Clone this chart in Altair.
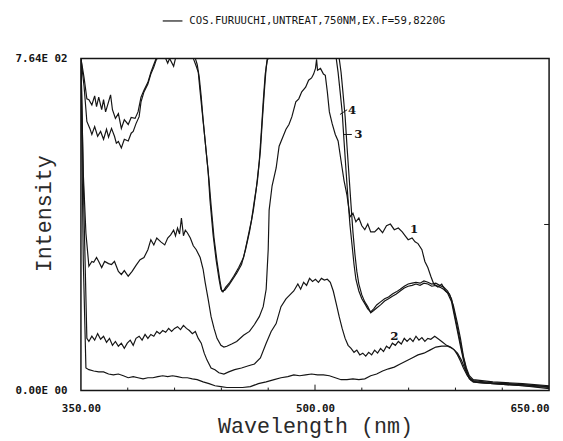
import altair as alt
import pandas as pd

# ---- data (wavelength nm, intensity) ----
curve1 = [(350,764),(351.5,500),(353.2,362),(355.1,286),(357,297),(358.2,295),(360,306),(361.4,297),(363.3,283),(365.2,297),(367.7,292),(369.6,290),(371.5,297),(374,274),(375.9,267),(377.8,276),(380.3,263),(382.8,274),(385.3,288),(387.9,301),(390.4,306),(392.9,324),(394.8,347),(396.7,335),(398.6,351),(401.2,342),(403.7,335),(405.6,351),(407.5,358),(409.4,369),(410.6,356),(411.9,374),(413.2,360),(414.4,397),(415.7,356),(416.9,369),(418.2,363),(420.1,351),(422,333),(423.9,324),(426.4,306),(428.3,279),(429.6,249),(431.5,211),(433.4,170),(435.3,143),(437.2,120),(439.7,104),(441.6,100),(443.5,102),(446.6,107),(449.8,113),(454.2,127),(458,136),(461.2,152),(464.3,170),(466.8,193),(468.7,233),(470,324),(470.6,415),(472.5,471),(475.1,512),(477,562),(478.8,578),(481.4,601),(483.3,612),(485.2,630),(487.7,664),(489.6,671),(491.5,687),(494,698),(495.9,714),(497.8,719),(499.1,728),(500.3,741),(501,762),(501.6,737),(503.5,741),(505.4,728),(506.6,725),(507.9,687),(509.2,641),(511,614),(513,589),(514.8,574),(516.7,528),(518.6,483),(520.5,449),(522.4,399),(524.3,408),(526.2,388),(528.1,397),(530,379),(531.9,370),(533.8,383),(535.7,365),(538.2,365),(540.7,374),(543.3,363),(545.8,379),(548.3,383),(550.8,370),(553.4,374),(555.9,365),(557.8,356),(559.7,347),(562.2,351),(564.1,342),(566,338),(568.5,324),(570.4,297),(572.3,283),(574.2,263),(576.1,245),(578.7,238),(581.2,245),(583.7,229),(586.2,222),(588.7,195),(591.3,154),(593.2,120),(595.1,79),(597,52),(598.9,34),(601.4,25),(614,20),(633,16),(650,11)]

curve2 = [(350,764),(352,400),(353.8,120),(355.1,113),(357,125),(358.8,116),(360.7,131),(362.6,118),(364.5,125),(366.4,111),(368.3,120),(370.2,104),(372.1,113),(374,102),(375.9,109),(377.8,97),(379.7,109),(381.6,116),(383.5,104),(385.3,120),(387.3,125),(389.2,116),(391.1,129),(392.9,120),(394.8,129),(396.7,125),(398.6,136),(400.5,131),(402.4,138),(404.3,134),(406.2,143),(408.1,136),(410,143),(411.9,147),(413.8,140),(415.7,150),(417.6,143),(419.5,138),(421.4,131),(423.3,136),(425.2,120),(427.1,109),(429,86),(430.8,70),(433.4,52),(435.9,48),(438.4,41),(441.6,38),(444.7,43),(448.5,48),(452.9,52),(457.4,57),(461.2,61),(465,75),(468.7,109),(471.9,136),(475.1,154),(478.2,193),(481.4,211),(483.9,220),(486.4,229),(489,245),(490.8,233),(492.7,249),(494.6,242),(496.5,258),(498.4,251),(500.3,256),(502.2,249),(504.1,258),(506,254),(507.9,256),(509.8,249),(511.7,229),(513.6,200),(515.5,170),(517.4,143),(519.3,120),(521.2,104),(523.1,97),(525,88),(526.8,93),(528.7,82),(530.6,86),(532.5,79),(534.4,88),(536.3,82),(538.2,93),(540.1,86),(542,97),(543.9,90),(545.8,102),(547.7,97),(549.6,109),(551.5,104),(553.4,113),(555.3,107),(557.2,120),(559,113),(560.9,120),(562.8,113),(564.7,125),(566.6,116),(568.5,122),(570.4,113),(572.3,120),(574.2,118),(576.7,125),(579.3,118),(581.8,111),(584.3,104),(586.8,100),(589.4,93),(591.3,82),(593.2,68),(595.1,52),(597.6,34),(600.1,23),(604.5,18),(620.3,16),(650,9)]

curve3 = [(350,764),(352,700),(353.8,619),(355.7,603),(357,589),(358.8,607),(360.7,585),(362.6,596),(364.5,578),(366.4,601),(367.7,583),(369.6,603),(371.5,585),(372.7,569),(374,573),(375.9,558),(377.8,578),(380.3,574),(382.2,592),(383.5,596),(385.3,614),(387.3,630),(388.5,664),(390.4,687),(392.9,705),(394.8,728),(396.7,744),(398.6,764),(423.3,764),(424.5,750),(425.8,721),(427.1,675),(428.3,623),(430.2,551),(432.1,483),(433.4,426),(435.3,351),(437.2,297),(439.1,252),(440.3,229),(442.2,231),(444.7,242),(447.3,256),(449.8,270),(452.9,290),(455.5,324),(458,365),(460.5,415),(462.4,465),(464.3,528),(465.6,596),(466.8,664),(468.1,728),(469.4,759),(470,764),(515.5,764),(516.7,732),(518,682),(519.3,630),(520.5,562),(521.8,494),(523.1,426),(524.3,365),(525.6,313),(526.8,274),(528.1,245),(530,220),(531.9,204),(533.8,193),(535.7,179),(537.6,184),(539.5,190),(542,197),(544.6,206),(547.1,211),(549.6,217),(552.1,222),(554.6,229),(557.2,236),(559.7,240),(562.2,242),(564.7,245),(567.3,242),(569.8,247),(572.3,245),(574.8,240),(577.4,242),(579.9,238),(582.4,233),(585,224),(587.5,204),(589.4,170),(591.3,136),(593.2,102),(595.1,70),(597,43),(598.9,27),(601.4,20),(614,16),(633,11),(650,7)]

curve4 = [(350,764),(352,720),(353.8,671),(355.1,669),(357,657),(358.8,678),(360,653),(361.4,675),(363.3,646),(364.5,669),(365.8,641),(367.7,664),(369,680),(370.2,646),(372.1,626),(374,637),(375.9,603),(377.8,623),(380.3,612),(382.2,628),(384.7,626),(386.6,641),(388.5,675),(390.4,691),(392.9,709),(394.8,732),(396.7,750),(398,762),(399.3,764),(404.3,764),(405.6,753),(406.8,764),(409.4,746),(410.6,764),(422,764),(423.9,746),(425.2,732),(426.4,687),(427.7,641),(429.6,574),(431.5,505),(432.7,438),(434.7,358),(436.6,301),(438.5,256),(439.7,233),(441,227),(442.8,238),(445.4,249),(447.9,263),(451.1,283),(454.2,306),(456.7,347),(459.3,392),(461.2,438),(463.1,483),(465,551),(466.2,619),(467.5,687),(468.7,744),(469.4,764),(513.6,764),(514.8,732),(516.1,687),(517.4,641),(518.6,574),(519.9,505),(521.2,438),(522.4,381),(523.7,336),(525,290),(526.2,256),(528.1,229),(530,211),(531.9,200),(533.8,188),(535.7,181),(537.6,188),(539.5,197),(542,204),(544.6,211),(547.1,215),(549.6,222),(552.1,227),(554.6,233),(557.2,240),(559.7,245),(562.2,247),(564.7,249),(567.3,247),(569.8,252),(572.3,249),(574.8,245),(577.4,247),(579.9,242),(582.4,238),(585,229),(587.5,211),(589.4,177),(591.3,143),(593.2,109),(595.1,75),(597,48),(598.9,29.5),(601.4,23),(614,18),(633,14),(650,9)]

curve5 = [(350,764),(351.5,300),(353.2,52),(355.1,48),(358.2,45),(361.4,43),(364.5,43),(367.7,38),(370.8,36),(374,38),(377.2,34),(380.3,29.5),(383.5,32),(386.6,29.5),(389.8,27),(392.9,29.5),(396.1,29.5),(399.3,32),(402.4,34),(405.6,32),(408.7,34),(411.9,32),(415.1,29.5),(418.2,29.5),(421.4,27),(424.5,25),(428.3,20),(432.1,16),(435.9,11),(439.7,9),(443.5,7),(448.5,7),(453.6,7),(458.6,9),(463.7,16),(468.7,20),(473.8,25),(478.2,29.5),(482.6,32),(486.4,36),(490.2,34),(494,36),(497.8,38),(501.6,36),(505.4,36),(509.2,34),(513,29.5),(516.7,25),(520.5,25),(524.3,27),(528.1,25),(531.9,27),(535.7,34),(539.5,38),(543.3,45),(547.1,50),(550.8,54),(554.6,61),(558.4,68),(562.2,75),(566,82),(569.8,86),(573.6,93),(577.4,100),(581.2,102),(585,102),(588.1,97),(591.3,86),(593.8,70),(596.3,48),(598.9,29.5),(601.4,20),(614,16),(633,11),(650,4.5)]

curve_names = ["1", "2", "3", "4", "5"]
label_text = ["1", "2", "3", "4"]
label_wl = [563.5, 550.8, 527.8, 523.8]
label_int = [372, 125, 589, 646]
leader_wl = [518.2, 516.0]
leader_wl2 = [523.6, 520.6]
leader_int = [589, 635]
leader_int2 = [589, 646]
minor_ticks = [380, 410, 440, 470, 530, 560, 590, 620]
major_ticks = [500]
x_labels = [350, 500, 650]
y_labels = [0, 764]
legend_text = "COS.FURUUCHI,UNTREAT,750NM,EX.F=59,8220G"

rows = []
for name, pts in zip(curve_names, [curve1, curve2, curve3, curve4, curve5]):
    for i, (w, v) in enumerate(pts):
        rows.append({"curve": name, "wl": w, "inten": v, "order": i})
df = pd.DataFrame(rows)

INK = "#151515"
xscale = alt.Scale(domain=[350, 650], nice=False, zero=False)
yscale = alt.Scale(domain=[0, 764], nice=False, zero=True)

xaxis = alt.Axis(
    values=x_labels, format=".2f", ticks=False, domain=False, grid=False,
    labelFont="DejaVu Sans Mono", labelFontWeight="bold", labelFontSize=11,
    labelColor=INK, labelPadding=12,
    labelAlign={"condition": {"test": "datum.value == 650", "value": "right"}, "value": "center"},
    title="Wavelength (nm)", titleFont="Liberation Mono", titleFontSize=22,
    titleFontWeight="normal", titleColor="#2a2a2a", titleY=43, titleBaseline="alphabetic",
)
yaxis = alt.Axis(
    values=y_labels, ticks=False, domain=False, grid=False,
    labelExpr="datum.value == 0 ? '0.00E 00' : '7.64E 02'",
    labelFont="DejaVu Sans Mono", labelFontWeight="bold", labelFontSize=11,
    labelColor=INK, labelPadding=14, labelBaseline="middle",
    title="Intensity", titleFont="Liberation Mono", titleFontSize=22,
    titleFontWeight="normal", titleColor="#2a2a2a", titleX=-38, titleY=157,
    titleAlign="center", titleBaseline="middle",
)

lines = alt.Chart(df).mark_line(color=INK, strokeWidth=1.2, clip=True).encode(
    x=alt.X("wl:Q", scale=xscale, axis=xaxis),
    y=alt.Y("inten:Q", scale=yscale, axis=yaxis),
    detail="curve:N",
    order="order:Q",
)

lab_df = pd.DataFrame({"wl": label_wl, "inten": label_int, "t": label_text})
labels = alt.Chart(lab_df).mark_text(
    font="DejaVu Serif", fontWeight="bold", fontSize=12, color=INK, baseline="middle"
).encode(x=alt.X("wl:Q", scale=xscale), y=alt.Y("inten:Q", scale=yscale), text="t:N")

lead_df = pd.DataFrame({"wl": leader_wl, "wl2": leader_wl2, "inten": leader_int, "inten2": leader_int2})
leaders = alt.Chart(lead_df).mark_rule(color=INK, strokeWidth=1).encode(
    x=alt.X("wl:Q", scale=xscale), x2="wl2:Q",
    y=alt.Y("inten:Q", scale=yscale), y2="inten2:Q",
)

minor_df = pd.DataFrame({"wl": minor_ticks})
minor = alt.Chart(minor_df).mark_rule(color=INK, strokeWidth=1).encode(
    x=alt.X("wl:Q", scale=xscale), y=alt.value(337), y2=alt.value(334)
)
major_df = pd.DataFrame({"wl": major_ticks})
major = alt.Chart(major_df).mark_rule(color=INK, strokeWidth=1).encode(
    x=alt.X("wl:Q", scale=xscale), y=alt.value(337), y2=alt.value(331)
)
right_tick = alt.Chart(pd.DataFrame({"v": [382]})).mark_rule(color=INK, strokeWidth=1).encode(
    x=alt.value(470), x2=alt.value(475), y=alt.Y("v:Q", scale=yscale)
)

leg_line = alt.Chart(pd.DataFrame({"k": [0]})).mark_rule(color=INK, strokeWidth=1.2).encode(
    x=alt.value(83), x2=alt.value(103), y=alt.value(-38)
)
leg_text = alt.Chart(pd.DataFrame({"t": [legend_text]})).mark_text(
    font="DejaVu Sans Mono", fontSize=10.8, color=INK, align="left", baseline="middle"
).encode(x=alt.value(110), y=alt.value(-38), text="t:N")

chart = alt.layer(lines, leaders, labels, minor, major, right_tick, leg_line, leg_text).properties(
    width=475, height=337,
    autosize="none",
    background="white",
    padding={"left": 74, "top": 48, "right": 6, "bottom": 46},
).configure_view(stroke=INK, strokeWidth=1.5)

chart.save("out.html", embed_options={"renderer": "svg", "actions": False})
